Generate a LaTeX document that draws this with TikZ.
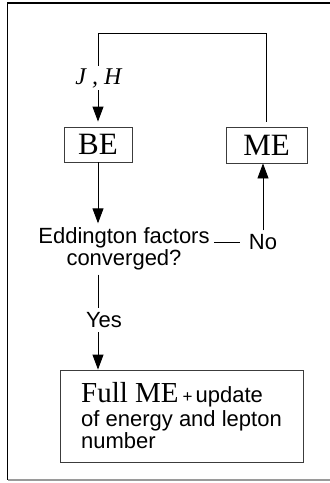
\documentclass[tikz,border=0pt]{standalone}
\usepackage{fontspec}
\setmainfont{Liberation Serif}
\setsansfont{Liberation Sans}
\usetikzlibrary{arrows.meta}
\definecolor{framegray}{HTML}{9A9A9A}
\definecolor{boxgray}{HTML}{3C3C3C}

\begin{document}
\begin{tikzpicture}[x=1pt, y=-1pt, >={Triangle[length=15pt,width=11pt]}, line width=0.9pt,
    box/.style={draw=boxgray, inner sep=0pt},
    serifbig/.style={font=\fontsize{31}{34}\selectfont},
    sanslbl/.style={font=\sffamily\fontsize{22}{22}\selectfont, inner sep=4pt}]
  \useasboundingbox (0,0) rectangle (330,483);
  \draw[line width=1.6pt] (340,3) -- (7.5,3) -- (7.5,480);
  \draw[framegray, line width=1.2pt] (7.5,480) -- (340,480);

  \node[box, serifbig, minimum width=68pt, minimum height=35pt] (be) at (98,144.5) {BE};
  \node[box, serifbig, minimum width=81pt, minimum height=36pt] (me) at (266.5,145) {ME};
  \node[font=\fontsize{24}{26}\selectfont, inner sep=2pt] (jh) at (99,78) {\textit{J , H}};
  \node[sanslbl, align=center] (edd) at (124,249) {Eddington factors\\converged?};
  \node[sanslbl, inner xsep=8pt] (no) at (263,242.5) {No};
  \node[sanslbl] (yes) at (104,320) {Yes};
  \node[box, minimum width=243pt, minimum height=92pt, align=left,
        font=\sffamily\fontsize{22}{22}\selectfont] (full) at (181.5,416)
    {{\rmfamily\fontsize{29}{30}\selectfont Full ME}\hspace{4pt}{\fontsize{17}{17}\selectfont +}\hspace{3pt}update\\[2pt]
     of energy and lepton\\
     number};

  \coordinate (turn) at (98,33);
  \draw[shorten <=5pt] (me.north) |- (turn) -- (jh.north -| turn);
  \draw[->, shorten >=5pt] (jh.south -| turn) -- (be.north);
  \draw[->] (be.south) -- (be |- edd.north);
  \draw (edd.east |- no.west) -- (no.west);
  \draw[->] (no.north) -- (no.north |- me.south);
  \draw (edd.south -| be) -- (yes.north -| be);
  \draw[->] (yes.south -| be) -- (full.north -| be);
\end{tikzpicture}
\end{document}
